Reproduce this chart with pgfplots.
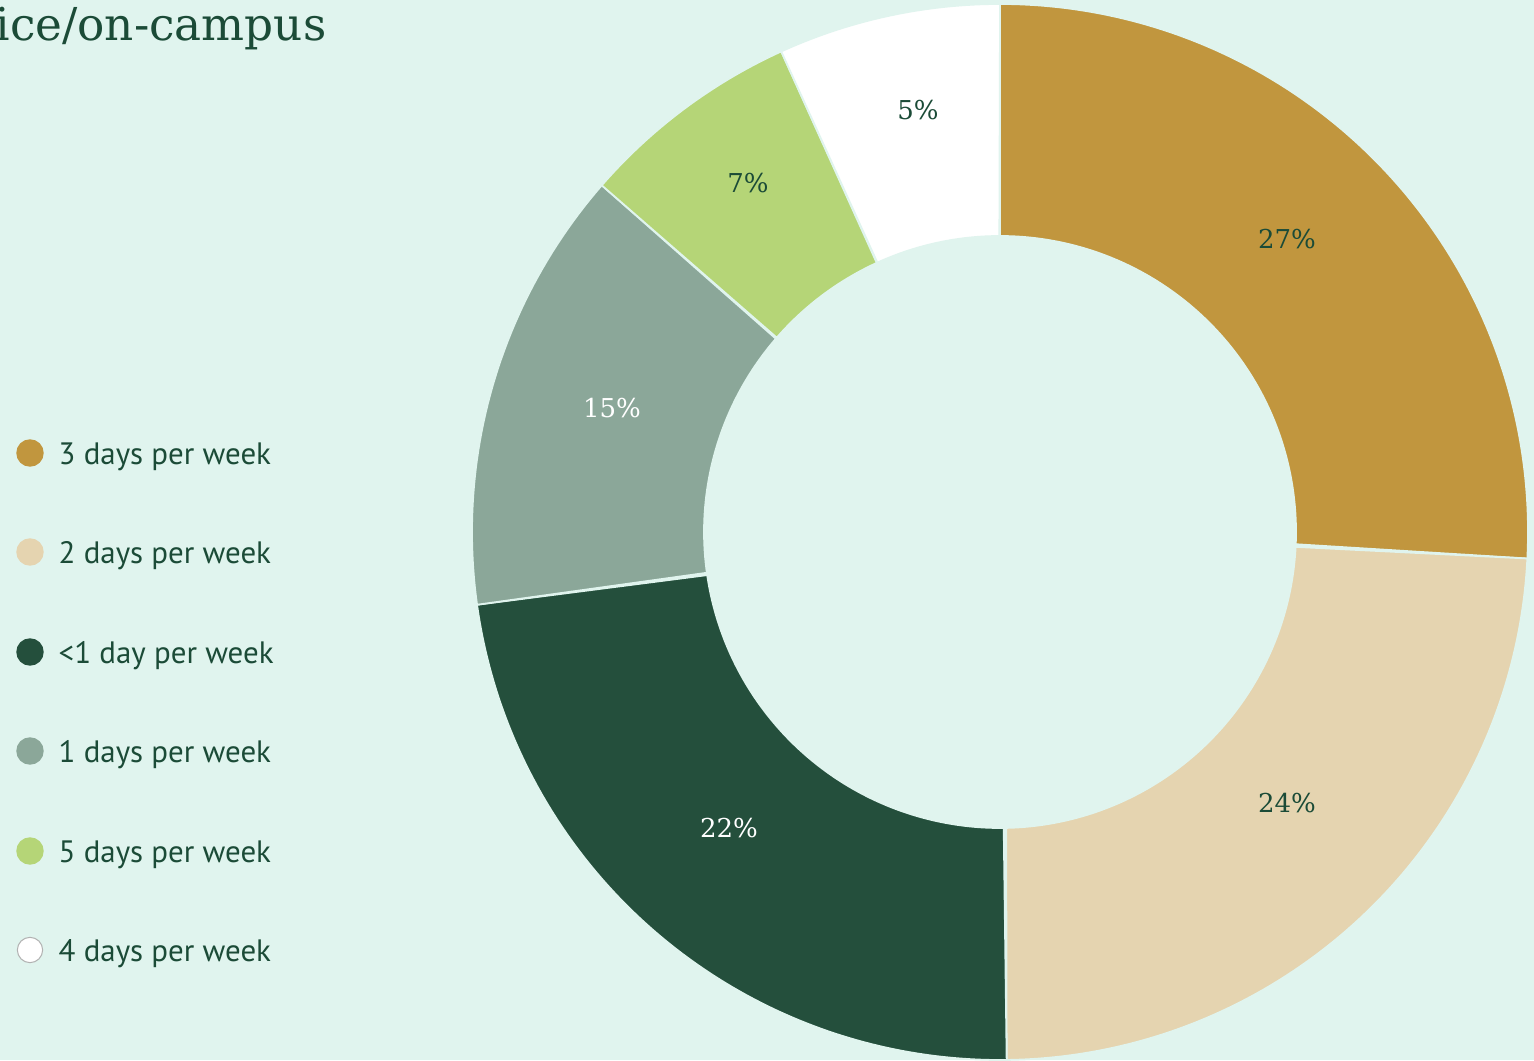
\documentclass[border=0pt]{standalone}
\usepackage{pgfplots}
\pgfplotsset{compat=1.18}
\usepackage{pgfplotstable}
\usepackage{fontspec}
\setmainfont{DejaVu Serif}
\newfontfamily\legfont{PT Sans}
\definecolor{bg}{HTML}{E0F4EE}
\definecolor{txt}{HTML}{1B4B37}
\definecolor{cA}{HTML}{C1963E}
\definecolor{cB}{HTML}{E5D4B0}
\definecolor{cC}{HTML}{244F3C}
\definecolor{cD}{HTML}{8BA799}
\definecolor{cE}{HTML}{B5D577}
\definecolor{cF}{HTML}{FFFFFF}
% cumulative shares (percent of the full circle), clockwise from top
% 3 days: 0 - 25.8 ; 2 days: 25.8 - 49.8 ; <1 day: 49.8 - 72.8
% 1 day: 72.8 - 86.4 ; 5 days: 86.4 - 93.2 ; 4 days: 93.2 - 100
\newcommand{\slice}[3]{%
\addplot[fill=#3, draw=bg, line width=0.5pt, domain=0:2, samples=361, variable=\t, mark=none]
 ({1000 + (\t<=1 ? 528 : 296)*cos(90-3.6*(\t<=1 ? #1+(#2-#1)*\t : #2-(#2-#1)*(\t-1)))},
  {528 + (\t<=1 ? 528 : 296)*sin(90-3.6*(\t<=1 ? #1+(#2-#1)*\t : #2-(#2-#1)*(\t-1)))}) -- cycle;
}
\tikzset{legtxt/.style={txt, anchor=base west, inner sep=0pt, font=\legfont\fontsize{8.8}{10}\selectfont}}
\begin{document}
\begin{tikzpicture}
\fill[bg] (0,0) rectangle (15.34cm,10.6cm);
\begin{axis}[
  at={(0,0)}, anchor=south west,
  scale only axis, width=15.34cm, height=10.6cm,
  xmin=0, xmax=1534, ymin=0, ymax=1060,
  hide axis, clip=true,
]
\slice{0}{25.8}{cA}
\slice{25.8}{49.8}{cB}
\slice{49.8}{72.8}{cC}
\slice{72.8}{86.4}{cD}
\slice{86.4}{93.2}{cE}
\slice{93.2}{100}{cF}
% slice labels
\node[txt, font=\fontsize{7.4}{9}\selectfont] at (axis cs:1287,821) {27\%};
\node[txt, font=\fontsize{7.4}{9}\selectfont] at (axis cs:1287,257) {24\%};
\node[white, font=\fontsize{7.4}{9}\selectfont] at (axis cs:729,232) {22\%};
\node[white, font=\fontsize{7.4}{9}\selectfont] at (axis cs:612,652) {15\%};
\node[txt, font=\fontsize{7.4}{9}\selectfont] at (axis cs:748,877) {7\%};
\node[txt, font=\fontsize{7.4}{9}\selectfont] at (axis cs:918,950) {5\%};
% legend markers
\addplot[only marks, mark=*, mark size=3.7pt, cA, mark options={draw=cA}] coordinates {(30,607)};
\addplot[only marks, mark=*, mark size=3.7pt, cB, mark options={draw=cB}] coordinates {(30,508)};
\addplot[only marks, mark=*, mark size=3.7pt, cC, mark options={draw=cC}] coordinates {(30,408)};
\addplot[only marks, mark=*, mark size=3.7pt, cD, mark options={draw=cD}] coordinates {(30,309)};
\addplot[only marks, mark=*, mark size=3.7pt, cE, mark options={draw=cE}] coordinates {(30,209)};
\addplot[only marks, mark=*, mark size=3.6pt, white, mark options={draw=gray!60, line width=0.3pt}] coordinates {(30,110)};
\node[legtxt] at (axis cs:58,595) {3 days per week};
\node[legtxt] at (axis cs:58,496) {2 days per week};
\node[legtxt] at (axis cs:58,396) {<1 day per week};
\node[legtxt] at (axis cs:58,297) {1 days per week};
\node[legtxt] at (axis cs:58,197) {5 days per week};
\node[legtxt] at (axis cs:58,98) {4 days per week};
% title (cut off at the left edge)
\node[txt, anchor=base east, inner sep=0pt, font=\fontsize{12.9}{15}\selectfont] at (axis cs:327,1019) {ice/on-campus};
\end{axis}
\pgfresetboundingbox
\useasboundingbox (0,0) rectangle (15.34cm,10.6cm);
\end{tikzpicture}
\end{document}
